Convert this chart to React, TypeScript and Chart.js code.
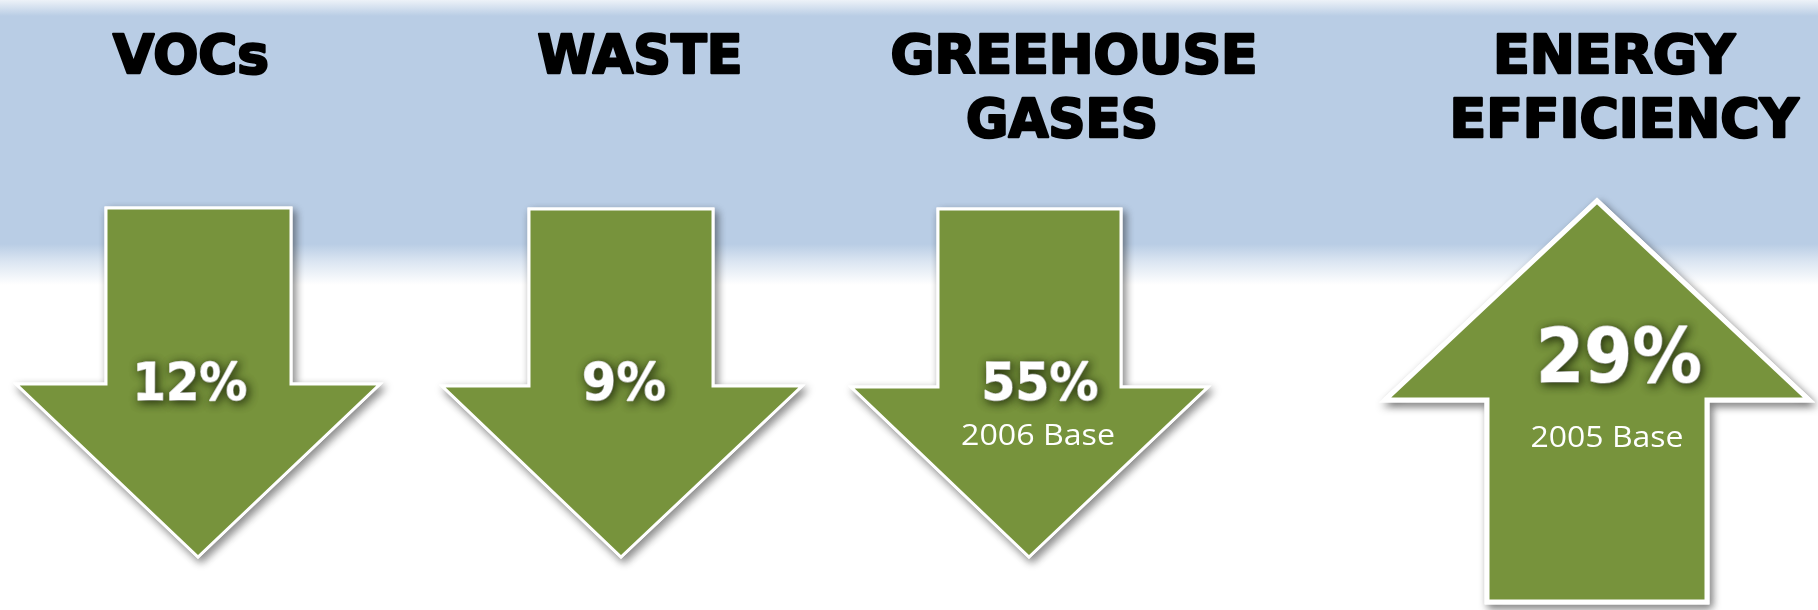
import React, { useEffect, useRef } from 'react';
import { Chart, registerables } from 'chart.js';
Chart.register(...registerables);

// ---------- data ----------
const categories = ['VOCs', 'WASTE', 'GREEHOUSE GASES', 'ENERGY EFFICIENCY'];
const titleLines = [['VOCs'], ['WASTE'], ['GREEHOUSE', 'GASES'], ['ENERGY', 'EFFICIENCY']];
const changePercent = [12, 9, 55, 29];
const direction = ['down', 'down', 'down', 'up'];
const baseYearLabels = ['', '', '2006 Base', '2005 Base'];

// ---------- layout (units of the hidden 0..1818 / 0..610 scales) ----------
const W = 1818;
const H = 610;
const GREEN = '#77933C';
const BLUE = '#B9CDE5';

const LAYOUT: any[] = [
  {
    titles: [{ x: 191, y: 73, w: 156 }],
    arrow: { sl: 106, sr: 291, top: 208, sh: 384, hl: 16, hr: 380, tx: 198, ty: 557, b: 3 },
    pct: { x: 190, y: 400, w: 115, size: 52 },
    base: null,
  },
  {
    titles: [{ x: 640, y: 73, w: 205 }],
    arrow: { sl: 529, sr: 713, top: 209, sh: 386, hl: 442, hr: 802, tx: 621, ty: 557, b: 3 },
    pct: { x: 624, y: 400, w: 84, size: 52 },
    base: null,
  },
  {
    titles: [{ x: 1074, y: 73, w: 367 }, { x: 1062, y: 137, w: 192 }],
    arrow: { sl: 938, sr: 1121, top: 209, sh: 387, hl: 851, hr: 1208, tx: 1029, ty: 557, b: 3 },
    pct: { x: 1040, y: 400, w: 117, size: 52 },
    base: { x: 1038, y: 445, w: 154, size: 30 },
  },
  {
    titles: [{ x: 1614, y: 73, w: 242 }, { x: 1624, y: 137, w: 349 }],
    arrow: { sl: 1487, sr: 1707, top: 602, sh: 400, hl: 1385, hr: 1809, tx: 1597, ty: 201, b: 5 },
    pct: { x: 1619, y: 382, w: 166, size: 74 },
    base: { x: 1607, y: 447, w: 153, size: 30 },
  },
];

function fitText(ctx: CanvasRenderingContext2D, text: string, cx: number, by: number, w: number, font: string, color: string, strokeW: number, shadow?: boolean) {
  ctx.save();
  ctx.font = font;
  const m = ctx.measureText(text).width || 1;
  ctx.translate(cx, by);
  ctx.scale(w / m, 1);
  ctx.textAlign = 'center';
  ctx.textBaseline = 'alphabetic';
  ctx.lineJoin = 'round';
  if (shadow) {
    ctx.shadowColor = 'rgba(25,35,8,0.9)';
    ctx.shadowBlur = 10;
    ctx.shadowOffsetX = 2;
    ctx.shadowOffsetY = 2;
  }
  ctx.fillStyle = color;
  if (strokeW > 0) {
    ctx.strokeStyle = color;
    ctx.lineWidth = strokeW;
    ctx.strokeText(text, 0, 0);
  }
  ctx.fillText(text, 0, 0);
  ctx.restore();
}

const infographicPlugin = {
  id: 'infographic',
  beforeDraw(chart: any) {
    const ctx: CanvasRenderingContext2D = chart.ctx;
    const xs = chart.scales.x;
    const ys = chart.scales.y;
    const px = (v: number) => xs.getPixelForValue(v);
    const py = (v: number) => ys.getPixelForValue(v);
    ctx.save();
    ctx.fillStyle = '#FFFFFF';
    ctx.fillRect(px(0), py(0), px(W) - px(0), py(H) - py(0));
    const g = ctx.createLinearGradient(0, py(0), 0, py(285));
    g.addColorStop(0, '#EDF2F8');
    g.addColorStop(16 / 285, BLUE);
    g.addColorStop(244 / 285, BLUE);
    g.addColorStop(262 / 285, '#DCE6F2');
    g.addColorStop(1, '#FFFFFF');
    ctx.fillStyle = g;
    ctx.fillRect(px(0), py(0), px(W) - px(0), py(285) - py(0));
    ctx.restore();
  },
  afterDatasetsDraw(chart: any) {
    const ctx: CanvasRenderingContext2D = chart.ctx;
    const xs = chart.scales.x;
    const ys = chart.scales.y;
    const px = (v: number) => xs.getPixelForValue(v);
    const py = (v: number) => ys.getPixelForValue(v);

    categories.forEach((_, i) => {
      const L = LAYOUT[i];
      const a = L.arrow;
      const path = () => {
        ctx.beginPath();
        ctx.moveTo(px(a.sl), py(a.top));
        ctx.lineTo(px(a.sr), py(a.top));
        ctx.lineTo(px(a.sr), py(a.sh));
        ctx.lineTo(px(a.hr), py(a.sh));
        ctx.lineTo(px(a.tx), py(a.ty));
        ctx.lineTo(px(a.hl), py(a.sh));
        ctx.lineTo(px(a.sl), py(a.sh));
        ctx.closePath();
      };
      ctx.save();
      ctx.lineJoin = 'miter';
      ctx.miterLimit = 10;
      // white outline with drop shadow
      ctx.shadowColor = 'rgba(0,0,0,0.45)';
      ctx.shadowBlur = 8;
      ctx.shadowOffsetX = 3;
      ctx.shadowOffsetY = 4;
      path();
      ctx.fillStyle = '#FFFFFF';
      ctx.fill();
      ctx.lineWidth = a.b;
      ctx.strokeStyle = '#FFFFFF';
      ctx.stroke();
      ctx.shadowColor = 'rgba(0,0,0,0)';
      ctx.shadowBlur = 0;
      ctx.shadowOffsetX = 0;
      ctx.shadowOffsetY = 0;
      path();
      ctx.fillStyle = GREEN;
      ctx.fill();
      ctx.stroke();
      ctx.restore();

      // titles
      titleLines[i].forEach((line, j) => {
        const t = L.titles[j];
        fitText(ctx, line, px(t.x), py(t.y), t.w, 'bold 54px "DejaVu Sans"', '#000000', 2.5);
      });

      // percent label
      const p = L.pct;
      fitText(ctx, `${changePercent[i]}%`, px(p.x), py(p.y), p.w, `bold ${p.size}px "DejaVu Sans"`, '#FFFFFF', 1.5, true);

      // base year
      if (baseYearLabels[i] && L.base) {
        const b = L.base;
        fitText(ctx, baseYearLabels[i], px(b.x), py(b.y), b.w, `${b.size}px "Open Sans"`, '#FFFFFF', 0);
      }
    });
  },
};

export default function App() {
  const ref = useRef<HTMLCanvasElement | null>(null);
  useEffect(() => {
    if (!ref.current) return;
    const chart = new Chart(ref.current, {
      type: 'scatter',
      data: {
        datasets: [
          {
            label: 'Change since base year (%)',
            data: [],
            pointRadius: 0,
          },
        ],
      },
      options: {
        animation: false,
        responsive: false,
        maintainAspectRatio: false,
        layout: { padding: 0 },
        plugins: { legend: { display: false }, tooltip: { enabled: false } },
        scales: {
          x: { type: 'linear', min: 0, max: W, display: false },
          y: { type: 'linear', min: 0, max: H, reverse: true, display: false },
        },
        events: [],
      },
      plugins: [infographicPlugin],
    } as any);
    return () => chart.destroy();
  }, []);
  return (
    <div style={{ position: 'absolute', left: 0, top: 0, width: W, height: H }}>
      <canvas ref={ref} width={W} height={H} style={{ display: 'block', width: W, height: H }} />
    </div>
  );
}
